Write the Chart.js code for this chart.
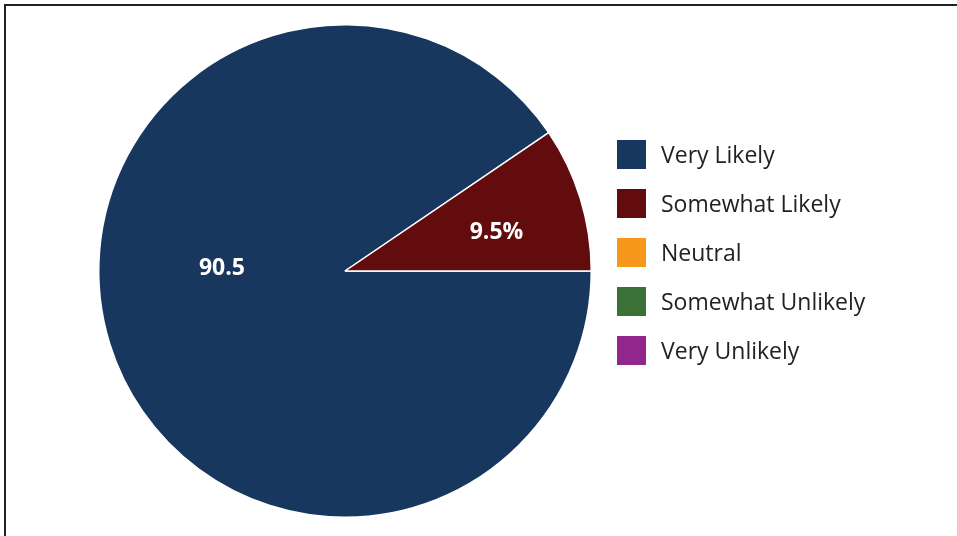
<!DOCTYPE html>
<html>
<head>
<meta charset="utf-8">
<script src="https://cdn.jsdelivr.net/npm/chart.js@4.4.0/dist/chart.umd.min.js"></script>
<style>
  html, body { margin: 0; padding: 0; background: #fff; }
  #wrap { position: relative; width: 957px; height: 536px; }
  #frame { position: absolute; left: 4px; top: 4px; right: -10px; bottom: -10px;
           border-top: 2px solid #222; border-left: 2px solid #222; pointer-events: none; }
</style>
</head>
<body>
<div id="wrap">
  <canvas id="chart" width="957" height="536"></canvas>
  <div id="frame"></div>
</div>
<script>
// Survey answers
var categories = ["Very Likely", "Somewhat Likely", "Neutral", "Somewhat Unlikely", "Very Unlikely"];
var values = [90.5, 9.5, 0, 0, 0];
var sliceLabels = ["90.5", "9.5%", "", "", ""];
var colors = ["#17375e", "#630c0e", "#f7981d", "#3b7037", "#91268f"];

var FONT = "'Open Sans', sans-serif";

// slice value labels, placed relative to each arc
var labelRadius = [0.5, 0.635];
var labelAlong = [0.556, 0.58];
var sliceLabelPlugin = {
  id: "sliceLabels",
  afterDatasetsDraw: function (chart) {
    var ctx = chart.ctx;
    var meta = chart.getDatasetMeta(0);
    ctx.save();
    ctx.fillStyle = "#fff";
    ctx.font = "bold 23px " + FONT;
    ctx.textAlign = "center";
    ctx.textBaseline = "middle";
    meta.data.forEach(function (arc, i) {
      if (!sliceLabels[i] || !values[i]) return;
      var a = arc.startAngle + (arc.endAngle - arc.startAngle) * labelAlong[i];
      var r = arc.outerRadius * labelRadius[i];
      ctx.fillText(sliceLabels[i], arc.x + Math.cos(a) * r, arc.y + Math.sin(a) * r);
    });
    ctx.restore();
  },
};

// legend drawn on the right, square swatches
var sideLegendPlugin = {
  id: "sideLegend",
  afterDraw: function (chart) {
    var ctx = chart.ctx;
    var x = chart.chartArea.right + 25;
    var y = 140;
    ctx.save();
    ctx.font = "23px " + FONT;
    ctx.textBaseline = "middle";
    ctx.textAlign = "left";
    chart.data.labels.forEach(function (lab, i) {
      ctx.fillStyle = colors[i];
      ctx.fillRect(x, y + i * 49, 29, 29);
      ctx.fillStyle = "#222";
      ctx.fillText(lab, x + 44, y + i * 49 + 16);
    });
    ctx.restore();
  },
};

var ctx = document.getElementById("chart");
var myChart = new Chart(ctx, {
  type: "pie",
  data: {
    labels: categories,
    datasets: [
      {
        data: values,
        backgroundColor: colors,
        borderColor: "#fff",
        borderWidth: 1.5,
      },
    ],
  },
  options: {
    responsive: false,
    animation: false,
    rotation: 90,
    layout: { padding: { left: 98, top: 24, bottom: 18, right: 365 } },
    plugins: {
      legend: { display: false },
      tooltip: { enabled: false },
    },
    events: [],
  },
  plugins: [sliceLabelPlugin, sideLegendPlugin],
});
</script>
</body>
</html>
